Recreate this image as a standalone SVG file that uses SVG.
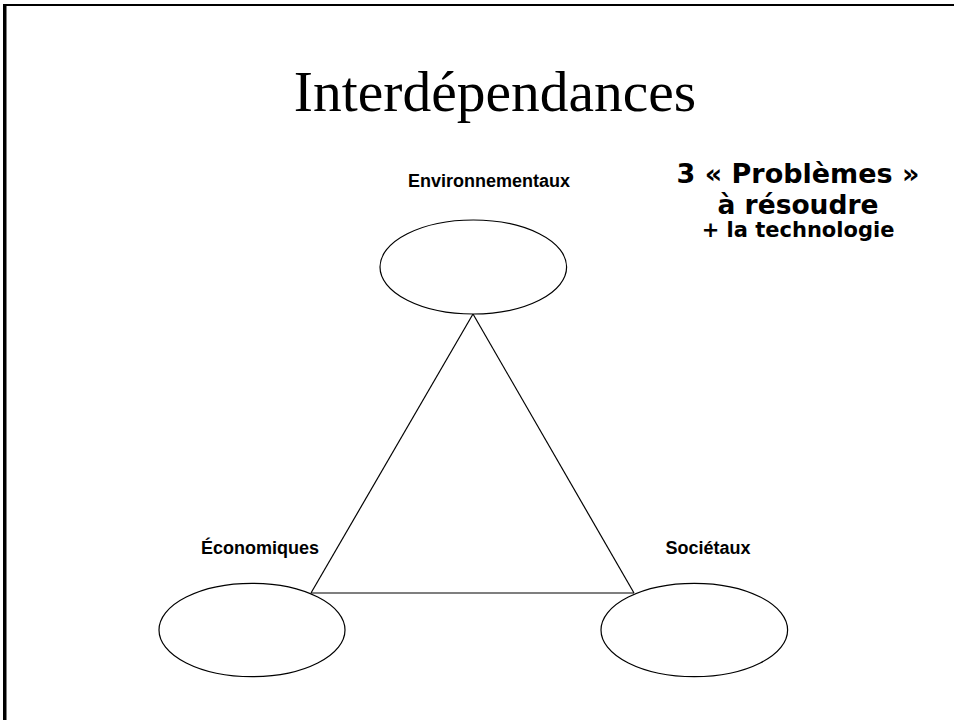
<svg xmlns="http://www.w3.org/2000/svg" width="954" height="720" viewBox="0 0 954 720">
  <style>
    .node { fill: #ffffff; stroke: #000000; stroke-width: 1.2; }
    .lbl { font-family: "Liberation Sans", Arial, sans-serif; font-weight: bold; font-size: 18px; fill: #000000; text-anchor: middle; }
    .edge { stroke: #000000; stroke-width: 1.2; fill: none; }
    .note { font-family: Verdana, "DejaVu Sans", sans-serif; font-weight: bold; fill: #000000; text-anchor: middle; }
  </style>
  <rect x="0" y="0" width="954" height="720" fill="#ffffff"/>
  <g id="frame">
    <rect x="3" y="4" width="951" height="2" fill="#000000"/>
    <rect x="3" y="4" width="3.5" height="716" fill="#000000"/>
  </g>
  <text id="title" x="495" y="111" font-family="'Liberation Serif', 'Times New Roman', serif" font-size="57.5" text-anchor="middle" fill="#000000">Interdépendances</text>
  <g id="connectors">
    <line class="edge" x1="473" y1="314" x2="311" y2="593"/>
    <line class="edge" x1="473" y1="314" x2="634" y2="593"/>
    <line class="edge" x1="311" y1="593" x2="634" y2="593"/>
  </g>
  <g id="environnementaux">
    <ellipse class="node" cx="473.3" cy="267" rx="93.3" ry="47"/>
    <text class="lbl" x="489" y="187">Environnementaux</text>
  </g>
  <g id="economiques">
    <ellipse class="node" cx="252" cy="630" rx="93" ry="46.7"/>
    <text class="lbl" x="260" y="554">Économiques</text>
  </g>
  <g id="societaux">
    <ellipse class="node" cx="694.3" cy="630" rx="93.3" ry="46.7"/>
    <text class="lbl" x="708" y="554">Sociétaux</text>
  </g>
  <g id="note">
    <text class="note" x="798" y="183" font-size="27">3 « Problèmes »</text>
    <text class="note" x="798" y="214" font-size="26.5">à résoudre</text>
    <text class="note" x="798" y="237" font-size="21">+ la technologie</text>
  </g>
</svg>
